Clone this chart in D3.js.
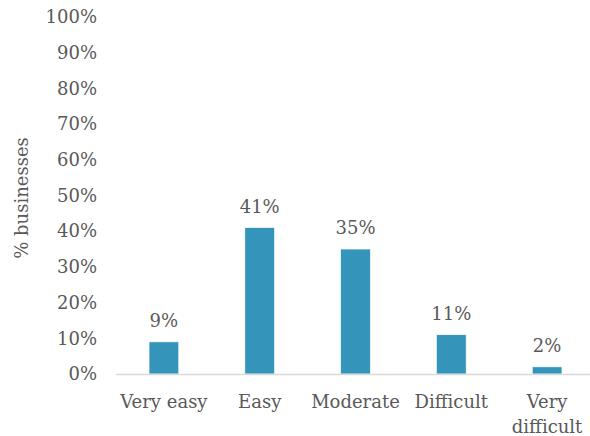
<!DOCTYPE html>
<html><head><meta charset="utf-8">
<script src="https://cdn.jsdelivr.net/npm/d3@7"></script>
<style>
body{margin:0;background:#fff;}
text{font-family:"DejaVu Serif",serif;fill:#595959;}
</style></head>
<body><svg id="c" width="590" height="436"></svg>
<script>
const categories = ["Very easy","Easy","Moderate","Difficult","Very difficult"];
const values = [9,41,35,11,2];
const yTicks = [0,10,20,30,40,50,60,70,80,90,100];
const yTitle = "% businesses";

const svg = d3.select("#c");
const fs = 18;
const x = d3.scaleBand().domain(categories).range([116,595]).paddingInner(0.69).paddingOuter(0.345);
const y = d3.scaleLinear().domain([0,100]).range([374,17]);

// y axis labels
const ya = svg.append("g").attr("transform","translate(97,0)")
  .call(d3.axisLeft(y).tickValues(yTicks).tickFormat(d=>d+"%").tickSize(0).tickPadding(0));
ya.select(".domain").remove();
ya.selectAll("text").style("font-family","DejaVu Serif").style("font-size",fs+"px").attr("fill","#595959");

// bars
svg.selectAll("rect.bar").data(values).join("rect").attr("class","bar")
  .attr("x",(d,i)=>x(categories[i])).attr("width",x.bandwidth())
  .attr("y",d=>y(d)).attr("height",d=>y(0)-y(d))
  .attr("fill","#3494BA").attr("stroke","#ffffff").attr("stroke-width",0.6);

// x axis line
svg.append("line").attr("x1",116).attr("x2",590).attr("y1",y(0)+0.5).attr("y2",y(0)+0.5)
  .attr("stroke","#D9D9D9").attr("stroke-width",1.3);

// value labels
svg.selectAll("text.val").data(values).join("text").attr("class","val")
  .attr("x",(d,i)=>x(categories[i])+x.bandwidth()/2).attr("y",d=>y(d)-15)
  .attr("text-anchor","middle").style("font-size",fs+"px").text(d=>d+"%");

// category labels
const xa = svg.append("g");
categories.forEach((c,i)=>{
  const cx = x(c)+x.bandwidth()/2;
  const words = c==="Very difficult" ? ["Very","difficult"] : [c];
  const t = xa.append("text").attr("x",cx).attr("y",408).attr("text-anchor","middle").style("font-size",fs+"px");
  words.forEach((w,j)=>t.append("tspan").attr("x",cx).attr("dy",j?25:0).text(w));
});

// y title
svg.append("text").attr("transform","translate(28,198) rotate(-90)").attr("text-anchor","middle")
  .style("font-size",fs+"px").text(yTitle);
</script></body></html>
